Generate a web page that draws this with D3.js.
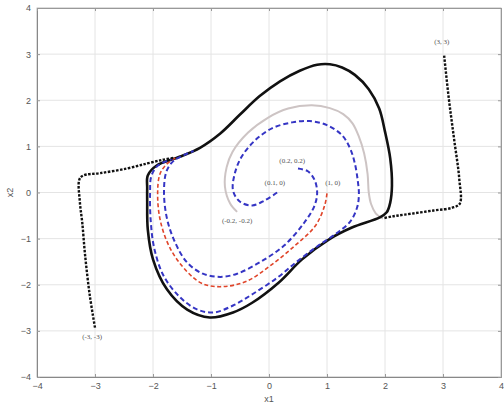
<!DOCTYPE html>
<html>
<head>
<meta charset="utf-8">
<script src="https://cdn.jsdelivr.net/npm/d3@7"></script>
<style>
  body { margin: 0; background: #fff; }
  svg { display: block; }
</style>
</head>
<body>
<div id="chart"></div>
<script>
// ticks on both axes
const xTicks = [-4, -3, -2, -1, 0, 1, 2, 3, 4];
const yTicks = [-4, -3, -2, -1, 0, 1, 2, 3, 4];

// limit cycle (closed)
const limitCycle = [
  [1.05, 2.78], [1.26, 2.71], [1.48, 2.55], [1.72, 2.24], [1.90, 1.82], [2.00, 1.32],
  [2.09, 0.74], [2.12, 0.15], [2.09, -0.22], [2.03, -0.43], [1.91, -0.54], [1.43, -0.76],
  [1.03, -1.02], [0.57, -1.45], [0.17, -1.95], [-0.29, -2.39], [-0.62, -2.60], [-1.02, -2.71],
  [-1.41, -2.54], [-1.76, -2.10], [-2.00, -1.45], [-2.09, -0.80], [-2.10, -0.22], [-2.10, 0.09],
  [-2.09, 0.37], [-1.93, 0.59], [-1.66, 0.72], [-1.53, 0.78], [-1.19, 0.97], [-0.84, 1.28],
  [-0.50, 1.69], [-0.16, 2.09], [0.19, 2.41], [0.53, 2.64], [0.83, 2.77]
];

// trajectory starting near (0.1, 0) - blue dashed
const trajA = [
  [0.14, 0.0], [-0.07, -0.17], [-0.29, -0.28], [-0.5, -0.2], [-0.62, 0.04], [-0.59, 0.41],
  [-0.47, 0.78], [-0.24, 1.13], [0.05, 1.39], [0.40, 1.52], [0.70, 1.55], [1.00, 1.46],
  [1.26, 1.24], [1.40, 0.95], [1.48, 0.63], [1.53, 0.26], [1.55, -0.05], [1.52, -0.32],
  [1.40, -0.63], [1.17, -0.88], [0.83, -1.17], [0.48, -1.50], [0.14, -1.85], [-0.28, -2.2],
  [-0.62, -2.45], [-0.95, -2.6], [-1.25, -2.53], [-1.55, -2.25], [-1.82, -1.8], [-1.98, -1.2],
  [-2.04, -0.6], [-2.05, 0.0], [-2.03, 0.35], [-1.92, 0.58], [-1.66, 0.73]
];

// trajectory starting near (0.2, 0.2) - blue dashed
const trajB = [
  [0.5, 0.52], [0.67, 0.46], [0.79, 0.26], [0.83, -0.02], [0.78, -0.30], [0.61, -0.65],
  [0.26, -1.15], [-0.14, -1.5], [-0.55, -1.76], [-0.84, -1.83], [-1.14, -1.76], [-1.41, -1.52],
  [-1.62, -1.08], [-1.76, -0.56], [-1.81, 0.0], [-1.77, 0.45], [-1.65, 0.68], [-1.45, 0.82],
  [-1.3, 0.9]
];

// trajectory starting at (1, 0) - red dashed
const trajRed = [
  [1.0, -0.02], [0.96, -0.28], [0.80, -0.72], [0.43, -1.17], [0.03, -1.58], [-0.38, -1.92],
  [-0.79, -2.04], [-1.14, -1.98], [-1.41, -1.72], [-1.70, -1.22], [-1.87, -0.63], [-1.92, -0.05],
  [-1.88, 0.4], [-1.76, 0.62], [-1.6, 0.76]
];

// trajectory starting near (-0.2, -0.2) - gray solid
const trajGray = [
  [-0.55, -0.42], [-0.67, -0.24], [-0.76, 0.13], [-0.73, 0.55], [-0.63, 0.88], [-0.36, 1.3],
  [-0.02, 1.62], [0.33, 1.82], [0.74, 1.89], [1.05, 1.83], [1.28, 1.70], [1.44, 1.50],
  [1.55, 1.21], [1.64, 0.85], [1.70, 0.4], [1.72, 0.0], [1.76, -0.25], [1.84, -0.45], [1.95, -0.56]
];

// outside trajectories - black dotted
const trajOut1 = [
  [3.02, 2.97], [3.10, 2.04], [3.19, 1.17], [3.28, 0.3], [3.29, -0.24], [3.16, -0.33],
  [2.84, -0.39], [2.34, -0.48], [2.12, -0.52], [1.96, -0.56]
];
const trajOut2 = [
  [-3.0, -2.93], [-3.09, -2.23], [-3.17, -1.37], [-3.22, -0.65], [-3.26, -0.22], [-3.27, 0.28],
  [-3.2, 0.37], [-2.91, 0.42], [-2.45, 0.52], [-2.10, 0.63], [-1.83, 0.71], [-1.64, 0.75]
];

// initial condition labels and where they sit (data units)
const labelText = ['(3, 3)', '(-3, -3)', '(0.2, 0.2)', '(0.1, 0)', '(1, 0)', '(-0.2, -0.2)'];
const labelAt = [[2.98, 3.25], [-3.05, -3.15], [0.4, 0.67], [0.1, 0.2], [1.1, 0.2], [-0.55, -0.63]];

const width = 504, height = 407;
const margin = { top: 8, right: 3, bottom: 30, left: 37 };

const svg = d3.select('#chart').append('svg')
  .attr('width', width)
  .attr('height', height);

const x = d3.scaleLinear().domain([-4, 4]).range([margin.left, width - margin.right]);
const y = d3.scaleLinear().domain([-4, 4]).range([height - margin.bottom, margin.top]);

// grid
const grid = svg.append('g').attr('stroke', '#e4e4e4').attr('stroke-width', 1);
grid.selectAll('.gx').data(xTicks).join('line')
  .attr('x1', (d) => x(d)).attr('x2', (d) => x(d))
  .attr('y1', y(-4)).attr('y2', y(4));
grid.selectAll('.gy').data(yTicks).join('line')
  .attr('y1', (d) => y(d)).attr('y2', (d) => y(d))
  .attr('x1', x(-4)).attr('x2', x(4));

// box
svg.append('rect')
  .attr('x', x(-4)).attr('y', y(4))
  .attr('width', x(4) - x(-4)).attr('height', y(-4) - y(4))
  .attr('fill', 'none').attr('stroke', '#c8c8c8');

// axes, ticks pointing inward
const xAxis = svg.append('g')
  .attr('transform', `translate(0,${y(-4)})`)
  .call(d3.axisBottom(x).tickValues(xTicks).tickSize(-3).tickPadding(6).tickFormat(d3.format('d')));
const yAxis = svg.append('g')
  .attr('transform', `translate(${x(-4)},0)`)
  .call(d3.axisLeft(y).tickValues(yTicks).tickSize(-3).tickPadding(6).tickFormat(d3.format('d')));
svg.append('g')
  .attr('transform', `translate(0,${y(4)})`)
  .call(d3.axisTop(x).tickValues(xTicks).tickSize(-3).tickFormat(''));
svg.append('g')
  .attr('transform', `translate(${x(4)},0)`)
  .call(d3.axisRight(y).tickValues(yTicks).tickSize(-3).tickFormat(''));

svg.selectAll('.domain').attr('stroke', '#999');
svg.selectAll('.tick line').attr('stroke', '#999');
svg.selectAll('.tick text')
  .attr('fill', '#555')
  .style('font-family', 'Liberation Sans, Arial, sans-serif')
  .style('font-size', '9px');
xAxis.selectAll('.domain').attr('stroke', '#888');
yAxis.selectAll('.domain').attr('stroke', '#888');

// axis titles
svg.append('text')
  .attr('x', x(0)).attr('y', height - 5)
  .attr('text-anchor', 'middle')
  .attr('fill', '#555')
  .style('font-family', 'Liberation Sans, Arial, sans-serif')
  .style('font-size', '9px')
  .text('x1');
svg.append('text')
  .attr('transform', `translate(13,${y(0)}) rotate(-90)`)
  .attr('text-anchor', 'middle')
  .attr('fill', '#555')
  .style('font-family', 'Liberation Sans, Arial, sans-serif')
  .style('font-size', '9px')
  .text('x2');

const line = d3.line()
  .x((d) => x(d[0]))
  .y((d) => y(d[1]))
  .curve(d3.curveCatmullRom.alpha(0.5));
const closedLine = d3.line()
  .x((d) => x(d[0]))
  .y((d) => y(d[1]))
  .curve(d3.curveCatmullRomClosed.alpha(0.5));

const plot = svg.append('g').attr('fill', 'none').attr('stroke-linecap', 'butt');

// gray one first, then the limit cycle
plot.append('path').attr('d', line(trajGray))
  .attr('stroke', '#cdc4c4').attr('stroke-width', 2);

plot.append('path').attr('d', closedLine(limitCycle))
  .attr('stroke', '#111').attr('stroke-width', 2.6);

plot.append('path').attr('d', line(trajRed))
  .attr('stroke', '#e0452a').attr('stroke-width', 1.6)
  .attr('stroke-dasharray', '4,2.5');

plot.append('path').attr('d', line(trajB))
  .attr('stroke', '#3535c4').attr('stroke-width', 2)
  .attr('stroke-dasharray', '5,3');

plot.append('path').attr('d', line(trajA))
  .attr('stroke', '#3535c4').attr('stroke-width', 2)
  .attr('stroke-dasharray', '5,3');

[trajOut1, trajOut2].forEach((t) => {
  plot.append('path').attr('d', line(t))
    .attr('stroke', '#111').attr('stroke-width', 2.4)
    .attr('stroke-dasharray', '2.5,1.5');
});

// initial condition labels
svg.append('g')
  .selectAll('text')
  .data(labelText)
  .join('text')
  .attr('x', (d, i) => x(labelAt[i][0]))
  .attr('y', (d, i) => y(labelAt[i][1]))
  .attr('text-anchor', 'middle')
  .attr('dominant-baseline', 'middle')
  .attr('fill', '#555')
  .style('font-family', 'Liberation Serif, Times New Roman, serif')
  .style('font-size', '7px')
  .text((d) => d);
</script>
</body>
</html>
